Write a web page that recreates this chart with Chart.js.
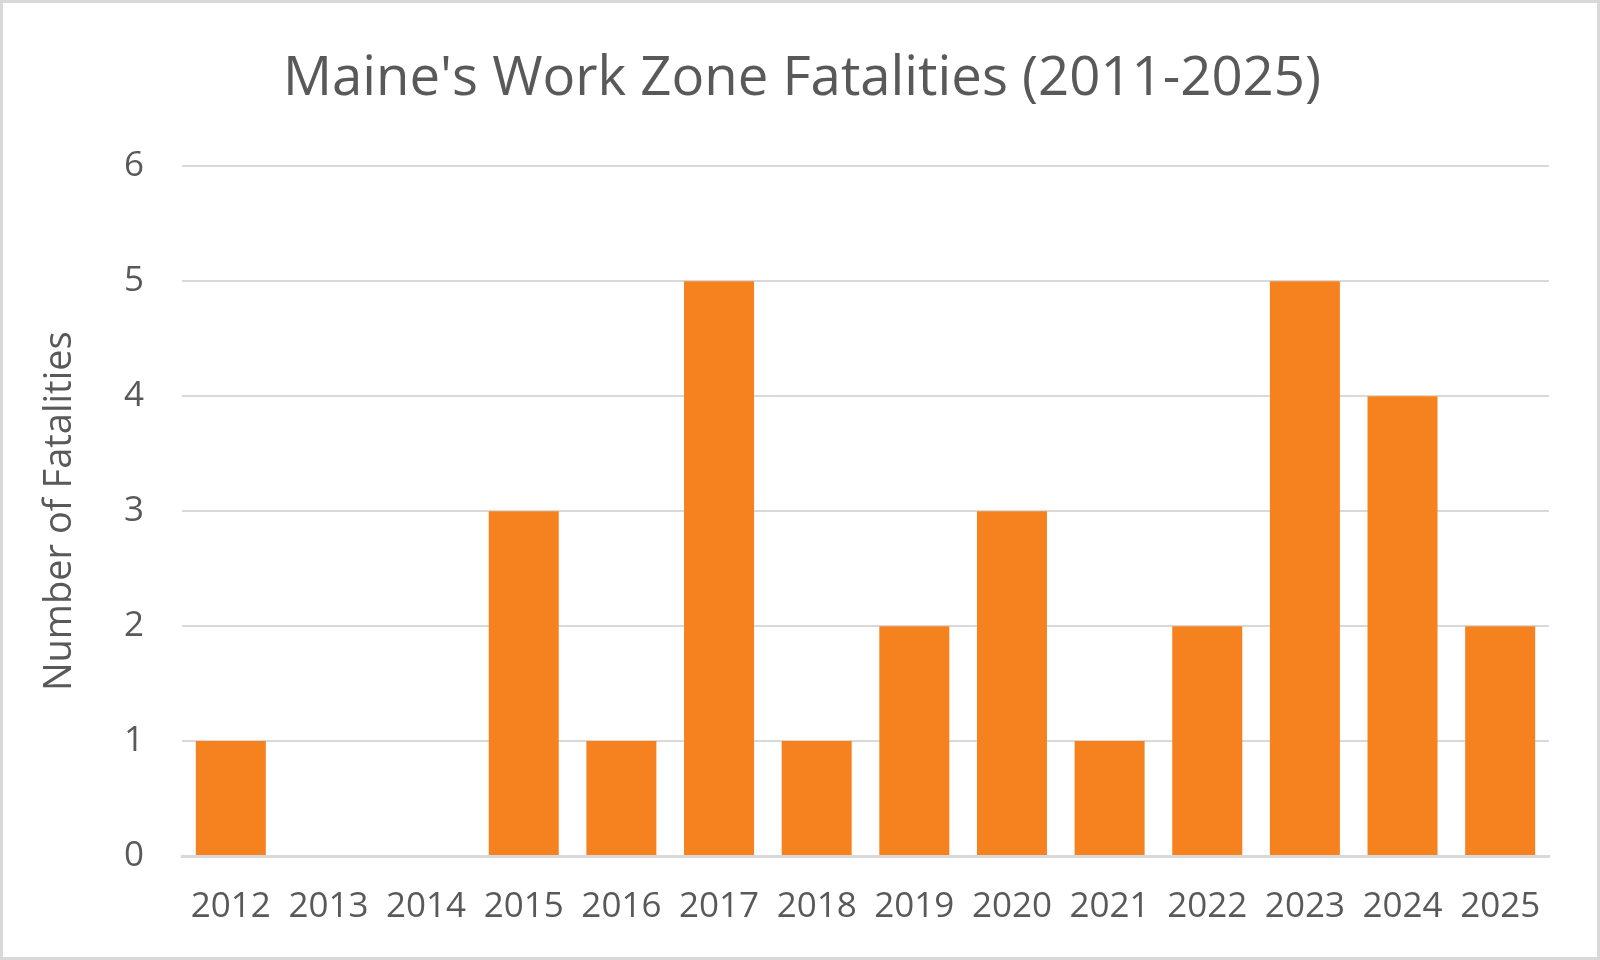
<!DOCTYPE html>
<html>
<head>
<meta charset="utf-8">
<script src="https://cdn.jsdelivr.net/npm/chart.js@4.4.1/dist/chart.umd.min.js"></script>
<style>
  html, body { margin:0; padding:0; background:#fff; }
  #wrap { position:relative; width:1600px; height:960px; }
</style>
</head>
<body>
<div id="wrap"><canvas id="chart" width="1600" height="960"></canvas></div>
<script>
// Data
const YEARS = ['2012','2013','2014','2015','2016','2017','2018','2019','2020','2021','2022','2023','2024','2025'];
const FATALITIES = [1,0,0,3,1,5,1,2,3,1,2,5,4,2];
const Y_MAX = 6;

const TEXT = '#595959';
const GRID = '#d9d9d9';
const FONT = "'Open Sans', 'Liberation Sans', sans-serif";

// white background + thin grey frame like the Excel chart area
const framePlugin = {
  id: 'frame',
  beforeDraw(chart){
    const c = chart.ctx;
    c.save();
    c.fillStyle = '#fff';
    c.fillRect(0, 0, chart.width, chart.height);
    c.strokeStyle = GRID;
    c.lineWidth = 3;
    c.strokeRect(1.5, 1.5, chart.width - 3, chart.height - 3);
    c.restore();
  }
};

new Chart(document.getElementById('chart'), {
  type: 'bar',
  data: {
    labels: YEARS,
    datasets: [{
      label: 'Fatalities',
      data: FATALITIES,
      backgroundColor: '#F6821F',
      categoryPercentage: 1,
      barPercentage: 0.717
    }]
  },
  options: {
    responsive: false,
    animation: false,
    // side padding chosen so the title centres on the whole frame
    layout: { padding: { left: 55, right: 51, top: 0, bottom: 0 } },
    plugins: {
      legend: { display: false },
      tooltip: { enabled: false },
      title: {
        display: true,
        text: "Maine's Work Zone Fatalities (2011-2025)",
        color: TEXT,
        font: { family: FONT, size: 54.5, weight: 'normal' },
        padding: { top: 47, bottom: 54 }
      }
    },
    scales: {
      x: {
        grid: { display: false, drawTicks: false },
        border: { display: true, color: GRID, width: 3 },
        ticks: { color: TEXT, font: { family: FONT, size: 35 }, padding: 30, maxRotation: 0 },
        afterFit(scale){ scale.height = 104; }
      },
      y: {
        min: 0,
        max: Y_MAX,
        grid: { color: GRID, lineWidth: 2, drawTicks: false },
        border: { display: false },
        ticks: { stepSize: 1, color: TEXT, font: { family: FONT, size: 35 }, padding: 38 },
        title: {
          display: true,
          text: 'Number of Fatalities',
          color: TEXT,
          font: { family: FONT, size: 38 },
          padding: { top: -18, bottom: 0 }
        },
        afterFit(scale){ scale.width = 127; }
      }
    }
  },
  plugins: [framePlugin]
});
</script>
</body>
</html>
